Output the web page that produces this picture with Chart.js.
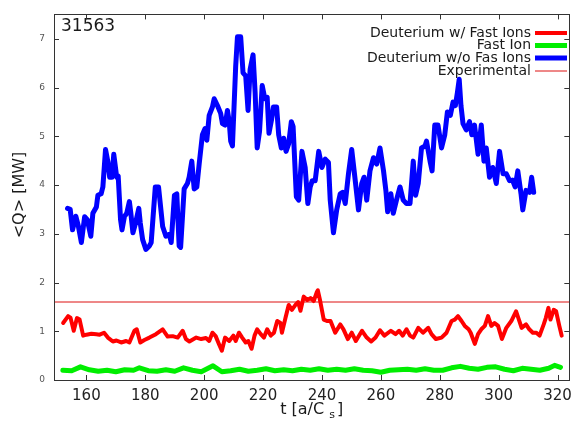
<!DOCTYPE html>
<html>
<head>
<meta charset="utf-8">
<script src="https://cdn.jsdelivr.net/npm/chart.js@4"></script>
<style>
  html, body { margin: 0; padding: 0; background: #fff; }
  #wrap { width: 579px; height: 421px; }
</style>
</head>
<body>
<div id="wrap"><canvas id="c" width="579" height="421"></canvas></div>
<script>
// ---- data ----
const seriesLabels = ["Deuterium w/ Fast Ions", "Fast Ion", "Deuterium w/o Fas Ions", "Experimental"];
const shotLabel = "31563";
const xTicks = [160, 180, 200, 220, 240, 260, 280, 300, 320];
const yTicks = [0, 1, 2, 3, 4, 5, 6, 7];

const blueT = [153.6,154.5,155.3,156.4,157.3,158.3,159.4,160.3,161.5,162.2,163.4,163.9,165.0,165.6,166.5,167.3,167.9,168.7,169.3,170.3,170.8,171.6,172.1,172.9,173.7,174.6,175.1,175.8,176.7,177.8,178.3,179.1,180.2,181.4,182.0,183.4,184.5,185.9,187.0,188.2,188.8,189.9,190.7,191.5,192.0,193.2,194.3,194.9,195.8,196.6,197.5,198.3,199.4,200.3,200.9,201.7,202.8,203.4,204.5,205.6,206.2,207.1,207.9,208.5,209.0,209.6,210.7,211.3,212.4,213.2,214.1,214.9,215.6,216.6,217.3,218.0,218.8,219.7,220.6,221.4,222.0,222.9,223.5,224.6,225.3,226.2,227.0,227.8,228.7,229.6,230.2,231.3,232.1,233.2,234.3,235.2,236.0,236.7,237.7,238.9,240.0,241.1,242.2,242.8,243.9,245.0,246.2,247.0,247.9,249.0,250.1,251.3,252.4,253.5,254.3,255.2,256.3,257.5,258.6,259.7,260.9,261.7,262.3,263.4,264.2,265.3,266.5,267.6,268.7,269.9,271.0,271.8,272.7,273.8,275.0,275.5,276.7,277.4,278.3,279.4,280.6,281.7,282.6,283.6,284.5,285.3,286.0,286.6,287.2,287.9,289.0,290.1,290.9,291.8,293.0,294.1,295.0,295.8,296.9,298.0,299.2,300.3,301.5,302.6,303.7,304.7,305.6,306.5,307.6,308.2,309.3,310.5,311.2,311.9];
const blueQ = [3.52,3.5,3.08,3.36,3.15,2.82,3.35,3.29,2.95,3.42,3.55,3.79,3.82,3.96,4.73,4.48,4.16,4.16,4.63,4.16,4.18,3.29,3.08,3.35,3.42,3.66,3.42,3.02,3.22,3.52,3.22,2.88,2.68,2.75,2.82,3.96,3.96,3.15,2.95,2.99,2.82,3.79,3.82,2.75,2.72,3.92,4.03,4.16,4.49,3.92,3.96,4.43,5.03,5.16,4.92,5.43,5.6,5.77,5.63,5.47,5.26,5.23,5.53,5.3,4.9,4.8,6.44,7.04,7.04,6.3,6.24,5.53,6.37,6.67,5.9,4.76,5.1,6.04,5.77,5.8,5.06,5.35,5.6,5.6,5.03,4.76,4.96,4.69,4.85,5.3,5.2,3.76,3.69,4.69,4.36,3.62,3.96,4.09,4.09,4.69,4.36,4.53,4.46,3.69,3.02,3.49,3.82,3.85,3.62,4.23,4.73,4.09,3.49,4.03,4.16,3.69,4.29,4.56,4.43,4.76,4.29,3.89,3.45,3.82,3.42,3.69,3.96,3.69,3.62,3.62,4.49,3.79,4.03,4.76,4.8,4.9,4.49,4.29,5.23,5.23,4.76,5.03,5.5,5.43,5.7,5.63,5.9,6.17,5.63,5.26,5.13,5.3,5.03,5.23,4.63,5.23,4.49,4.76,4.16,4.36,4.03,4.69,4.23,4.23,4.09,4.1,3.96,4.29,3.82,3.49,3.89,3.85,4.16,3.85];

const redT = [152.1,153.8,154.6,155.7,156.8,157.7,158.9,160.0,161.7,163.4,164.5,166.0,167.3,169.0,170.2,171.8,173.5,174.6,176.3,177.1,178.3,179.7,181.4,183.6,185.9,187.6,189.3,191.0,192.7,193.8,195.0,197.3,199.0,200.6,201.7,202.8,203.9,205.0,206.0,207.1,208.5,209.9,210.7,211.8,212.9,214.1,215.0,216.1,217.1,218.0,219.2,220.3,221.4,222.6,223.7,224.8,225.9,226.4,227.6,228.7,229.8,231.0,231.9,232.7,233.8,235.0,236.1,237.2,238.3,238.6,239.4,240.6,241.7,242.9,244.5,246.2,247.3,248.8,250.1,251.5,253.6,255.2,256.7,258.2,259.7,261.2,263.4,265.0,266.2,267.4,268.7,269.9,271.0,272.7,274.3,276.1,277.2,278.7,280.6,282.3,284.0,285.1,286.2,287.4,288.5,289.8,290.5,291.9,293.0,294.1,295.3,296.4,297.5,298.6,299.8,301.1,302.6,304.3,305.9,306.7,307.8,309.3,310.4,311.6,312.8,313.9,315.3,316.0,316.9,317.6,318.7,319.5,320.6,321.4];
const redQ = [1.17,1.31,1.28,1.01,1.27,1.24,0.91,0.93,0.95,0.94,0.93,0.97,0.87,0.79,0.81,0.77,0.8,0.77,1.01,1.04,0.77,0.82,0.87,0.94,1.04,0.89,0.9,0.87,1.01,0.84,0.79,0.87,0.84,0.86,0.8,0.97,0.9,0.74,0.6,0.87,0.8,0.91,0.8,0.97,0.87,0.77,0.8,0.64,0.91,1.04,0.94,0.87,1.04,0.91,0.97,1.21,1.17,0.97,1.27,1.54,1.44,1.54,1.6,1.42,1.71,1.64,1.68,1.62,1.81,1.84,1.62,1.24,1.21,1.21,0.97,1.14,1.04,0.84,0.97,0.8,1.01,0.87,0.79,0.87,1.02,0.91,1.01,0.94,1.01,0.91,1.04,0.91,0.87,1.07,0.97,1.07,0.94,0.84,0.87,0.97,1.21,1.24,1.31,1.21,1.11,1.04,0.97,0.74,0.94,1.04,1.11,1.31,1.11,1.17,1.11,0.84,1.07,1.21,1.41,1.27,1.07,1.14,1.04,0.97,0.97,0.91,1.14,1.27,1.48,1.24,1.44,1.41,1.11,0.91];

const greenT = [152,155,158,161,164,167,170,173,176,178,181,184,187,190,193,196,199,203,206,209,212,215,218,221,224,227,230,233,236,239,242,245,248,251,254,257,260,263,266,269,272,275,278,281,284,287,290,293,296,299,302,305,308,311,314,317,319,321];
const greenQ = [0.2,0.19,0.27,0.21,0.18,0.2,0.17,0.21,0.2,0.25,0.19,0.18,0.21,0.18,0.25,0.2,0.17,0.29,0.17,0.19,0.22,0.18,0.2,0.23,0.19,0.21,0.19,0.22,0.2,0.23,0.2,0.22,0.2,0.23,0.2,0.19,0.16,0.2,0.21,0.22,0.2,0.23,0.2,0.2,0.25,0.28,0.24,0.22,0.26,0.27,0.22,0.19,0.24,0.22,0.2,0.24,0.3,0.26];

const expT = [149, 324];
const expQ = [1.6, 1.6];

// ---- build chart ----
const pts = (ts, qs) => ts.map((t, i) => ({ x: t, y: qs[i] }));
const FONT = "'DejaVu Sans', sans-serif";

const styles = [
  { color: '#ff0000', width: 4 },
  { color: '#00ee00', width: 5 },
  { color: '#0000ff', width: 5 },
  { color: '#dd1111', width: 1 }
];

const datasets = [
  { label: seriesLabels[0], data: pts(redT, redQ) },
  { label: seriesLabels[1], data: pts(greenT, greenQ) },
  { label: seriesLabels[2], data: pts(blueT, blueQ) },
  { label: seriesLabels[3], data: pts(expT, expQ) }
].map((d, i) => Object.assign(d, {
  borderColor: styles[i].color,
  borderWidth: styles[i].width,
  pointRadius: 0,
  showLine: true,
  tension: 0,
  fill: false,
  borderJoinStyle: 'round',
  borderCapStyle: 'round'
}));

const decor = {
  id: 'decor',
  beforeDatasetsDraw(chart) {
    const ctx = chart.ctx;
    ctx.save();
    // legend (drawn under data, like the reference)
    ctx.font = "14px " + FONT;
    ctx.fillStyle = '#1a1a1a';
    ctx.textAlign = 'right';
    ctx.textBaseline = 'middle';
    const rows = [33, 45.5, 58, 71];
    seriesLabels.forEach((lab, i) => {
      ctx.fillText(lab, 531, rows[i]);
      ctx.beginPath();
      ctx.strokeStyle = styles[i].color;
      ctx.lineWidth = styles[i].width;
      ctx.moveTo(535, rows[i]);
      ctx.lineTo(567, rows[i]);
      ctx.stroke();
    });
    // shot number
    ctx.textAlign = 'left';
    ctx.font = "17px " + FONT;
    ctx.fillStyle = '#1a1a1a';
    ctx.fillText(shotLabel, 61, 27);
    ctx.restore();
  },
  afterDraw(chart) {
    const ctx = chart.ctx;
    const a = chart.chartArea;
    const xs = chart.scales.x, ys = chart.scales.y;
    ctx.save();
    ctx.strokeStyle = '#333';
    ctx.lineWidth = 1;
    ctx.strokeRect(Math.round(a.left) + 0.5, Math.round(a.top) + 0.5,
                   Math.round(a.right - a.left), Math.round(a.bottom - a.top));
    const L = 5;
    ctx.beginPath();
    xs.ticks.forEach(t => {
      const px = Math.round(xs.getPixelForValue(t.value)) + 0.5;
      ctx.moveTo(px, a.bottom); ctx.lineTo(px, a.bottom - L);
      ctx.moveTo(px, a.top); ctx.lineTo(px, a.top + L);
    });
    ys.ticks.forEach(t => {
      const py = Math.round(ys.getPixelForValue(t.value)) + 0.5;
      ctx.moveTo(a.left, py); ctx.lineTo(a.left + L, py);
      ctx.moveTo(a.right, py); ctx.lineTo(a.right - L, py);
    });
    ctx.stroke();

    // axis titles
    ctx.fillStyle = '#1a1a1a';
    ctx.textBaseline = 'alphabetic';
    // x title with subscript
    const main1 = 't [a/C ', sub = 's', main2 = ']';
    ctx.font = "16px " + FONT;
    const w1 = ctx.measureText(main1).width, w3 = ctx.measureText(main2).width;
    ctx.font = "11px " + FONT;
    const w2 = ctx.measureText(sub).width;
    const total = w1 + w2 + w3 + 2;
    const cx = (a.left + a.right) / 2;
    const x0 = cx - total / 2;
    const by = 414;
    ctx.textAlign = 'left';
    ctx.font = "16px " + FONT;
    ctx.fillText(main1, x0, by);
    ctx.font = "11px " + FONT;
    ctx.fillText(sub, x0 + w1, by + 4);
    ctx.font = "16px " + FONT;
    ctx.fillText(main2, x0 + w1 + w2 + 2, by);
    // y title
    ctx.translate(20, 195);
    ctx.rotate(-Math.PI / 2);
    ctx.textAlign = 'center';
    ctx.textBaseline = 'middle';
    ctx.font = "16px " + FONT;
    ctx.fillText('<Q> [MW]', 0, 0);
    ctx.restore();
  }
};

new Chart(document.getElementById('c'), {
  type: 'scatter',
  data: { datasets },
  options: {
    responsive: false,
    devicePixelRatio: 1,
    animation: false,
    layout: { padding: { left: 0, right: 6, top: 8, bottom: 0 } },
    plugins: { legend: { display: false }, tooltip: { enabled: false } },
    scales: {
      x: {
        type: 'linear',
        min: 149, max: 324,
        grid: { display: false, drawTicks: false },
        border: { display: false },
        afterFit: s => { s.height = 41; },
        afterBuildTicks: s => { s.ticks = xTicks.map(v => ({ value: v })); },
        ticks: { padding: 7, color: '#222', font: { family: FONT, size: 15 }, maxRotation: 0 }
      },
      y: {
        type: 'linear',
        min: 0, max: 7.5,
        grid: { display: false, drawTicks: false },
        border: { display: false },
        afterFit: s => { s.width = 54; },
        afterBuildTicks: s => { s.ticks = yTicks.map(v => ({ value: v })); },
        ticks: { padding: 9, color: '#555', font: { family: FONT, size: 9 } }
      }
    }
  },
  plugins: [decor]
});
</script>
</body>
</html>
